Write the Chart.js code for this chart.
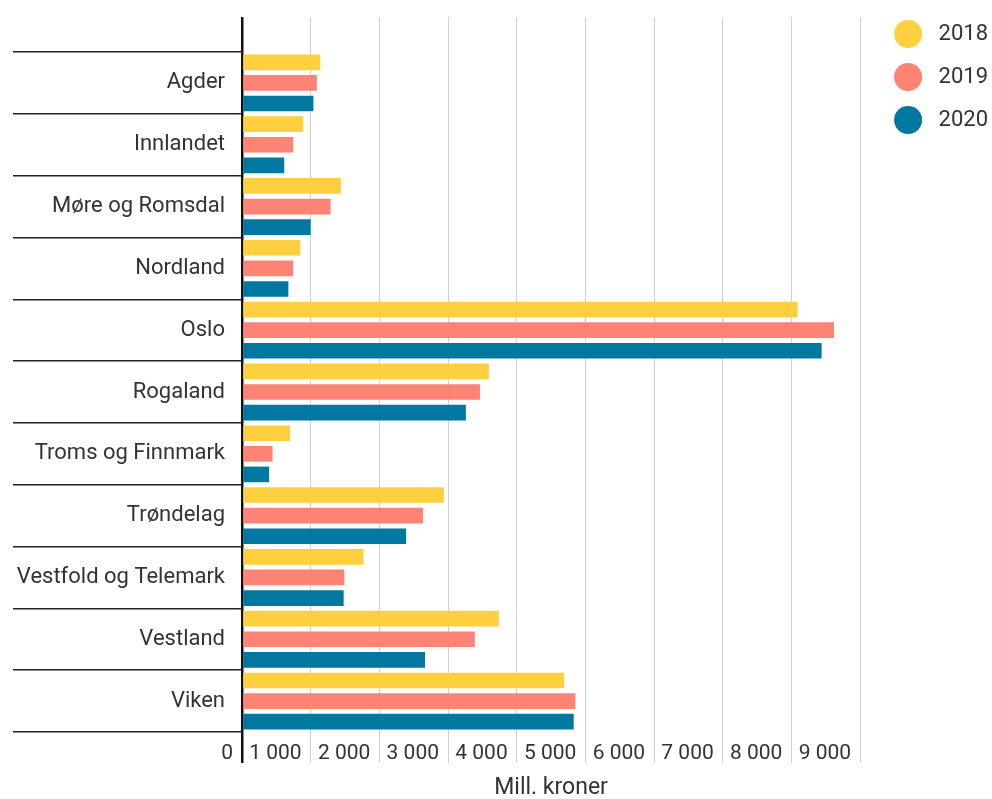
<!DOCTYPE html>
<html>
<head>
<meta charset="utf-8">
<script src="https://cdn.jsdelivr.net/npm/chart.js@4"></script>
<style>
  body { margin: 0; background: #fff; }
</style>
</head>
<body>
<canvas id="chart" width="992" height="799"></canvas>
<script>
// Fylker
const regions = ['Agder', 'Innlandet', 'Møre og Romsdal', 'Nordland', 'Oslo', 'Rogaland',
    'Troms og Finnmark', 'Trøndelag', 'Vestfold og Telemark', 'Vestland', 'Viken'];

// Mill. kroner per year
const values2018 = [1140, 890, 1440, 850, 8090, 3595, 700, 2940, 1770, 3740, 4690];
const values2019 = [1090, 745, 1290, 745, 8620, 3465, 445, 2635, 1490, 3390, 4855];
const values2020 = [1040, 615, 1000, 675, 8440, 3260, 395, 2390, 1480, 2665, 4830];

const xTickLabels = ['0', '1 000', '2 000', '3 000', '4 000', '5 000', '6 000', '7 000', '8 000', '9 000'];

const textColor = '#333';
const fontFamily = 'Roboto';

// zero line is the black axis, the rest light grey
const gridColor = (c) => c.tick && c.tick.value === 0 ? '#111' : '#d0d0d0';
const gridWidth = (c) => c.tick && c.tick.value === 0 ? 2.5 : 1;

// push the legend a bit further right, leaving a gap after the plot
const legendShift = {
    id: 'legendShift',
    afterLayout(chart) {
        chart.legend.left += 13;
        chart.legend.right += 13;
        chart.legend.top += 2;
        chart.legend.bottom += 2;
    },
};

const ctx = document.getElementById('chart').getContext('2d');
const chart = new Chart(ctx, {
    type: 'bar',
    data: {
        labels: regions,
        datasets: [
            { label: '2018', data: values2018, backgroundColor: '#fed03f' },
            { label: '2019', data: values2019, backgroundColor: '#fd8474' },
            { label: '2020', data: values2020, backgroundColor: '#00789f' },
        ],
    },
    plugins: [legendShift],
    options: {
        indexAxis: 'y',
        responsive: false,
        animation: false,
        devicePixelRatio: 1,
        categoryPercentage: 1.0,
        barPercentage: 0.76,
        layout: { padding: { left: 13, right: 7, top: 0, bottom: 0 } },
        font: { family: fontFamily, size: 21 },
        plugins: {
            tooltip: { enabled: false },
            legend: {
                position: 'right',
                align: 'start',
                labels: {
                    usePointStyle: true,
                    pointStyle: 'circle',
                    pointStyleWidth: 28,
                    boxHeight: 19.8,
                    padding: 21,
                    color: textColor,
                    font: { family: fontFamily, size: 22 },
                    generateLabels: (chart) => Chart.defaults.plugins.legend.labels.generateLabels(chart)
                        .map(item => ({ ...item, text: ' ' + item.text })),
                },
            },
        },
        scales: {
            x: {
                type: 'linear',
                position: 'bottom',
                min: 0,
                max: 9000,
                border: { display: false },
                grid: { color: gridColor, lineWidth: gridWidth, tickLength: 31 },
                ticks: {
                    stepSize: 1000,
                    autoSkip: false,
                    maxRotation: 0,
                    align: 'end',
                    labelOffset: -9,
                    padding: -22,
                    color: textColor,
                    font: { family: fontFamily, size: 21 },
                    callback: (v, i) => xTickLabels[i],
                },
                title: {
                    display: true,
                    text: 'Mill. kroner',
                    color: textColor,
                    font: { family: fontFamily, size: 23 },
                    padding: { top: 0, bottom: -3 },
                },
                afterFit: (scale) => { scale.height = 67; },
            },
            xTop: {
                type: 'linear',
                position: 'top',
                min: 0,
                max: 9000,
                border: { display: false },
                grid: { color: gridColor, lineWidth: gridWidth, tickLength: 35, drawOnChartArea: false },
                ticks: { display: false, stepSize: 1000 },
                afterFit: (scale) => { scale.height = 52; },
            },
            y: {
                border: { display: false },
                grid: { offset: true, drawOnChartArea: false, tickLength: 229, color: '#222', lineWidth: 1.5 },
                ticks: {
                    padding: -212,
                    color: textColor,
                    font: { family: fontFamily, size: 22 },
                },
                afterFit: (scale) => { scale.width = 229; },
            },
        },
    },
});
</script>
</body>
</html>
